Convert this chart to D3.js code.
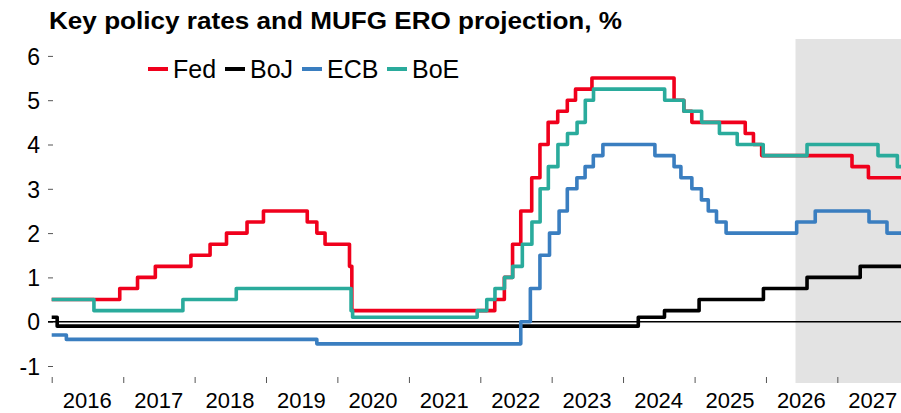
<!DOCTYPE html>
<html><head><meta charset="utf-8">
<script src="https://cdn.jsdelivr.net/npm/d3@7"></script>
<style>body{margin:0;background:#fff} svg{display:block} text{font-family:"Liberation Sans",Arial,sans-serif;fill:#000}</style>
</head><body><svg id="c" width="901" height="413"></svg>
<script>
// ---- data ----
const fedDates = ["2016-01-01","2016-12-14","2017-03-15","2017-06-14","2017-12-13","2018-03-21","2018-06-13","2018-09-26","2018-12-19","2019-07-31","2019-09-18","2019-10-30","2020-03-03","2020-03-15","2022-03-16","2022-05-04","2022-06-15","2022-07-27","2022-09-21","2022-11-02","2022-12-14","2023-02-01","2023-03-22","2023-05-03","2023-07-26","2024-09-18","2024-11-07","2024-12-18","2025-09-17","2025-10-29","2025-12-10","2027-03-17","2027-06-09"];
const fedRates = [0.5,0.75,1.0,1.25,1.5,1.75,2.0,2.25,2.5,2.25,2.0,1.75,1.25,0.25,0.5,1.0,1.75,2.5,3.25,4.0,4.5,4.75,5.0,5.25,5.5,5.0,4.75,4.5,4.25,4.0,3.75,3.5,3.25];

const bojDates = ["2016-01-01","2016-01-29","2024-03-19","2024-07-31","2025-01-24","2025-12-19","2026-07-30","2027-04-28"];
const bojRates = [0.1,-0.1,0.1,0.25,0.5,0.75,1.0,1.25];

const ecbDates = ["2016-01-01","2016-03-16","2019-09-18","2022-07-27","2022-09-14","2022-11-02","2022-12-21","2023-02-08","2023-03-22","2023-05-10","2023-06-21","2023-08-02","2023-09-20","2024-06-12","2024-09-18","2024-10-23","2024-12-18","2025-02-05","2025-03-12","2025-04-23","2025-06-11","2026-06-07","2026-09-10","2027-06-12","2027-09-12"];
const ecbRates = [-0.3,-0.4,-0.5,0.0,0.75,1.5,2.0,2.5,3.0,3.25,3.5,3.75,4.0,3.75,3.5,3.25,3.0,2.75,2.5,2.25,2.0,2.25,2.5,2.25,2.0];

const boeDates = ["2016-01-01","2016-08-04","2017-11-02","2018-08-02","2020-03-11","2020-03-19","2021-12-16","2022-02-03","2022-03-17","2022-05-05","2022-06-16","2022-08-04","2022-09-22","2022-11-03","2022-12-15","2023-02-02","2023-03-23","2023-05-11","2023-06-22","2023-08-03","2024-08-01","2024-11-07","2025-02-06","2025-05-08","2025-08-07","2025-12-18","2026-07-30","2027-07-28","2027-11-04"];
const boeRates = [0.5,0.25,0.5,0.75,0.25,0.1,0.25,0.5,0.75,1.0,1.25,1.75,2.25,3.0,3.5,4.0,4.25,4.5,5.0,5.25,5.0,4.75,4.5,4.25,4.0,3.75,4.0,3.75,3.5];

const seriesNames = ["Fed","BoJ","ECB","BoE"];
const seriesColors = ["#f0001c","#000000","#3a7ec0","#2aab9c"];
const years = [2016,2017,2018,2019,2020,2021,2022,2023,2024,2025,2026,2027];
const yTicks = [-1,0,1,2,3,4,5,6];
const yTickLabels = ["-1","0","1","2","3","4","5","6"];
const projectionStart = "2026-06-01";
const dataEnd = "2028-01-01";
const title = "Key policy rates and MUFG ERO projection, %";

// ---- chart ----
const parse = d3.timeParse("%Y-%m-%d");
const svg = d3.select("#c");
const W = 901, H = 413;
const x = d3.scaleTime().domain([new Date(2016,0,1), new Date(2028,0,1)]).range([51.7, 908.7]);
const y = d3.scaleLinear().domain([-1, 6]).range([366, 55.9]);

// projection shading
svg.append("rect").attr("x", x(parse(projectionStart))).attr("y", 39)
  .attr("width", W - x(parse(projectionStart))).attr("height", 383 - 39).attr("fill", "#e3e3e3");

// title
svg.append("text").attr("x", 49).attr("y", 28.5).attr("font-size", 24.5).attr("font-weight", "bold")
  .attr("textLength", 573).attr("lengthAdjust", "spacingAndGlyphs").text(title);

// y axis
const yAxis = d3.axisLeft(y).tickValues(yTicks).tickSize(5).tickPadding(8)
  .tickFormat((d,i) => yTickLabels[i]);
const gy = svg.append("g").attr("transform", "translate(53,0)").call(yAxis);
gy.select(".domain").remove();
gy.selectAll(".tick line").attr("stroke", "#555").attr("stroke-width", 1);
gy.selectAll(".tick text").attr("font-size", 23).attr("font-family", '"Liberation Sans",Arial,sans-serif').attr("fill", "#000").attr("dy", "0.36em");

// x axis: ticks at year starts, labels mid-year
const yearStarts = years.map(yr => new Date(yr, 0, 1));
const xAxis = d3.axisBottom(x).tickValues(yearStarts).tickSize(6).tickFormat("");
const gx = svg.append("g").attr("transform", "translate(0,377)").call(xAxis);
gx.select(".domain").remove();
gx.selectAll(".tick line").attr("stroke", "#555").attr("stroke-width", 1);
svg.append("g").selectAll("text").data(years).join("text")
  .attr("x", d => x(new Date(d, 6, 1)))
  .attr("y", 407.5).attr("text-anchor", "middle").attr("font-size", 22).text(d => String(d));

// zero line
svg.append("line").attr("x1", 48).attr("x2", W).attr("y1", y(0)).attr("y2", y(0))
  .attr("stroke", "#000").attr("stroke-width", 1.6);

// series
const allSeries = [
  [fedDates, fedRates], [bojDates, bojRates], [ecbDates, ecbRates], [boeDates, boeRates]
];
const line = d3.line().x(d => x(d[0])).y(d => y(d[1])).curve(d3.curveStepAfter);
svg.append("clipPath").attr("id", "pc").append("rect")
  .attr("x", 0).attr("y", 0).attr("width", W).attr("height", H);
allSeries.forEach(([dates, rates], i) => {
  const pts = dates.map((d, k) => [parse(d), rates[k]]);
  pts.push([parse(dataEnd), rates[rates.length - 1]]);
  svg.append("path").attr("d", line(pts)).attr("fill", "none")
    .attr("stroke", seriesColors[i]).attr("stroke-width", 3.6)
    .attr("stroke-linejoin", "round").attr("clip-path", "url(#pc)");
});

// legend
const legendX = [148, 225, 302, 387];
const lg = svg.append("g");
seriesNames.forEach((n, i) => {
  lg.append("line").attr("x1", legendX[i]).attr("x2", legendX[i] + 20)
    .attr("y1", 69).attr("y2", 69).attr("stroke", seriesColors[i]).attr("stroke-width", 4);
  lg.append("text").attr("x", legendX[i] + 25).attr("y", 77.5).attr("font-size", 25).text(n);
});
</script></body></html>
